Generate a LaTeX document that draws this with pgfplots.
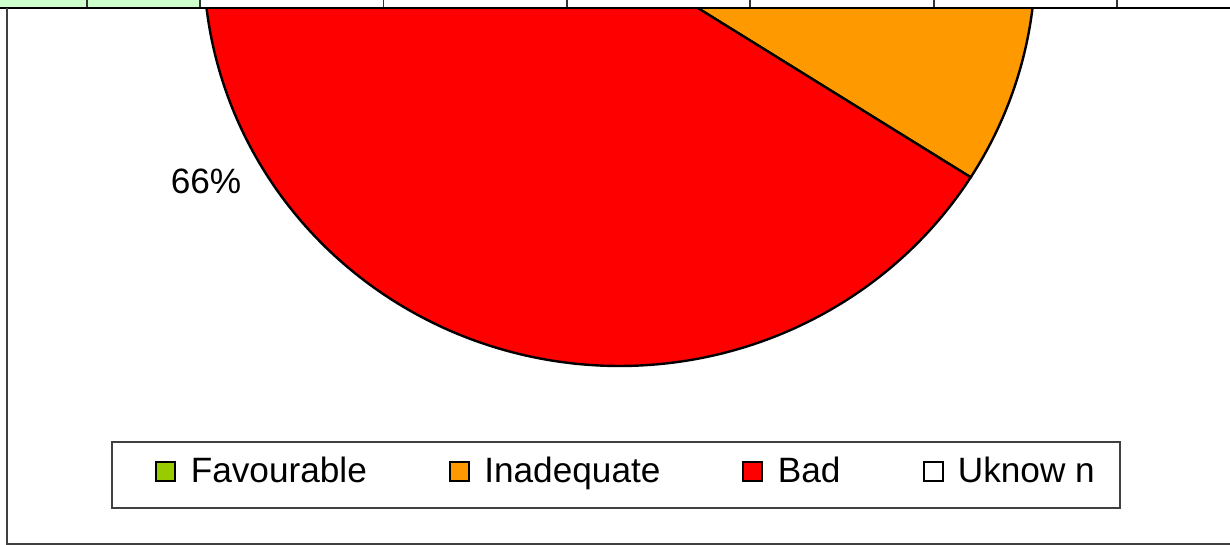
\documentclass[border=0pt]{standalone}
\usepackage{fontspec}
\setmainfont{Liberation Sans}
\usepackage{pgfplots}
\usepackage{pgfplotstable}
\pgfplotsset{compat=1.18}
\definecolor{fav}{HTML}{99CC00}
\definecolor{inad}{HTML}{FF9900}
\definecolor{bad}{HTML}{FF0000}
\definecolor{cellgreen}{HTML}{CCFFCC}
\definecolor{framegray}{HTML}{404040}

\pgfplotstableread{
label value
Favourable 0
Inadequate 34
Bad 66
Unknown 0
}\piedata

\begin{document}%
\begin{tikzpicture}
\pgfplotstablegetelem{0}{value}\of\piedata \let\vA\pgfplotsretval
\pgfplotstablegetelem{1}{value}\of\piedata \let\vB\pgfplotsretval
\pgfplotstablegetelem{2}{value}\of\piedata \let\vC\pgfplotsretval
\pgfplotstablegetelem{3}{value}\of\piedata \let\vD\pgfplotsretval
\pgfmathsetmacro{\aA}{90}
\pgfmathsetmacro{\aB}{\aA-3.6*\vA}
\pgfmathsetmacro{\aC}{\aB-3.6*\vB}
\pgfmathsetmacro{\aD}{\aC-3.6*\vC}
\pgfmathsetmacro{\aE}{\aD-3.6*\vD}
\def\cx{619.5}
\def\cy{602.5}
\def\rx{416}
\def\ry{406.5}
\begin{axis}[
  scale only axis, width=615pt, height=281pt,
  xmin=0, xmax=1230, ymin=0, ymax=562,
  hide axis, clip=true,
  legend columns=4,
  legend image code/.code={\draw[#1, line width=1pt] (0pt,-5pt) rectangle (9.5pt,4.5pt); \path (15pt,0pt);},
  legend style={at={(axis cs:155,91)}, anchor=west, draw=none, fill=none,
    font=\fontsize{17.6}{20}\selectfont, inner xsep=0pt, inner ysep=0pt,
    /tikz/every even column/.append style={column sep=39pt}},
]
\addlegendimage{fill=fav, draw=black}
\addlegendentry{Favourable}
\addlegendimage{fill=inad, draw=black}
\addlegendentry{Inadequate}
\addlegendimage{fill=bad, draw=black}
\addlegendentry{Bad}
\addlegendimage{fill=white, draw=black}
\addlegendentry{Uknow n}
% pie slices
\addplot[forget plot, fill=inad, draw=black, line width=1.2pt, domain=\aB:\aC, samples=200, variable=\t]
  ({\cx+\rx*cos(\t)}, {\cy+\ry*sin(\t)}) -- (axis cs:\cx,\cy) -- cycle;
\addplot[forget plot, fill=bad, draw=black, line width=1.2pt, domain=\aC:\aD, samples=300, variable=\t]
  ({\cx+\rx*cos(\t)}, {\cy+\ry*sin(\t)}) -- (axis cs:\cx,\cy) -- cycle;
\node[font=\fontsize{17.6}{20}\selectfont] at (axis cs:206,381) {66\%};
% legend frame
\draw[framegray, line width=0.6pt] (axis cs:112,54) rectangle (axis cs:1120,120);
% spreadsheet row at top
\fill[white] (axis cs:0,554) rectangle (axis cs:1230,562);
\fill[cellgreen] (axis cs:0,554) rectangle (axis cs:200,562);
\draw[black!80, line width=0.6pt] (axis cs:87,554) -- (axis cs:87,562);
\draw[black!80, line width=0.6pt] (axis cs:200,554) -- (axis cs:200,562);
\draw[black!80, line width=0.6pt] (axis cs:383.5,554) -- (axis cs:383.5,562);
\draw[black!80, line width=0.6pt] (axis cs:567,554) -- (axis cs:567,562);
\draw[black!80, line width=0.6pt] (axis cs:750,554) -- (axis cs:750,562);
\draw[black!80, line width=0.6pt] (axis cs:934,554) -- (axis cs:934,562);
\draw[black!80, line width=0.6pt] (axis cs:1117,554) -- (axis cs:1117,562);
\draw[black, line width=1pt] (axis cs:0,554) -- (axis cs:1230,554);
% chart frame
\draw[framegray, line width=0.75pt] (axis cs:7,554) -- (axis cs:7,18) -- (axis cs:1230,18);
\end{axis}
\end{tikzpicture}%
\end{document}
